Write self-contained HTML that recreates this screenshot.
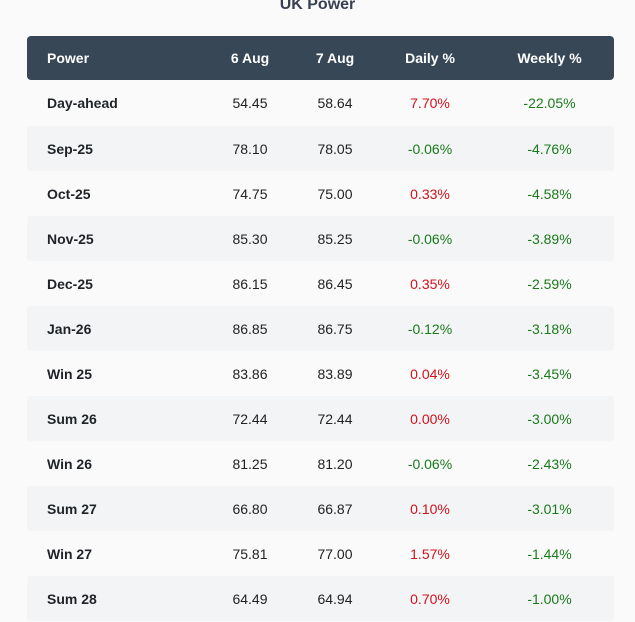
<!DOCTYPE html>
<html><head><meta charset="utf-8"><style>
body{margin:0;background:#fafafa;font-family:"Liberation Sans",sans-serif;width:635px;height:622px;overflow:hidden;position:relative}
.title{position:absolute;top:-4px;left:0;width:635px;text-align:center;font-size:16px;font-weight:bold;color:#374151}
table{position:absolute;left:27px;top:36px;width:587px;border-collapse:separate;border-spacing:0 0;font-size:14px}
th{background:#374756;color:#fff;height:42px;font-weight:bold;text-align:center}
th:first-child{border-radius:4px 0 0 4px;text-align:left;padding-left:20px}
th:last-child{border-radius:0 4px 4px 0}
td{height:45px;text-align:center;color:#222;padding:0}
td:first-child{text-align:left;padding-left:20px;font-weight:bold;color:#1f2328}
tr.alt td{background:#f3f4f6}
tr.alt td:first-child{border-radius:3px 0 0 3px}
tr.alt td:last-child{border-radius:0 3px 3px 0}
.r{color:#d0121b}.g{color:#1a7a1a}
tbody tr:first-child td{height:46px}
</style></head><body>
<div class="title">UK Power</div>
<table>
<colgroup><col style="width:178px"><col style="width:90px"><col style="width:80px"><col style="width:110px"><col style="width:129px"></colgroup>
<thead><tr><th>Power</th><th>6 Aug</th><th>7 Aug</th><th>Daily %</th><th>Weekly %</th></tr></thead>
<tbody>
<tr><td>Day-ahead</td><td>54.45</td><td>58.64</td><td class="r">7.70%</td><td class="g">-22.05%</td></tr>
<tr class="alt"><td>Sep-25</td><td>78.10</td><td>78.05</td><td class="g">-0.06%</td><td class="g">-4.76%</td></tr>
<tr><td>Oct-25</td><td>74.75</td><td>75.00</td><td class="r">0.33%</td><td class="g">-4.58%</td></tr>
<tr class="alt"><td>Nov-25</td><td>85.30</td><td>85.25</td><td class="g">-0.06%</td><td class="g">-3.89%</td></tr>
<tr><td>Dec-25</td><td>86.15</td><td>86.45</td><td class="r">0.35%</td><td class="g">-2.59%</td></tr>
<tr class="alt"><td>Jan-26</td><td>86.85</td><td>86.75</td><td class="g">-0.12%</td><td class="g">-3.18%</td></tr>
<tr><td>Win 25</td><td>83.86</td><td>83.89</td><td class="r">0.04%</td><td class="g">-3.45%</td></tr>
<tr class="alt"><td>Sum 26</td><td>72.44</td><td>72.44</td><td class="r">0.00%</td><td class="g">-3.00%</td></tr>
<tr><td>Win 26</td><td>81.25</td><td>81.20</td><td class="g">-0.06%</td><td class="g">-2.43%</td></tr>
<tr class="alt"><td>Sum 27</td><td>66.80</td><td>66.87</td><td class="r">0.10%</td><td class="g">-3.01%</td></tr>
<tr><td>Win 27</td><td>75.81</td><td>77.00</td><td class="r">1.57%</td><td class="g">-1.44%</td></tr>
<tr class="alt"><td>Sum 28</td><td>64.49</td><td>64.94</td><td class="r">0.70%</td><td class="g">-1.00%</td></tr>
</tbody></table>
</body></html>
